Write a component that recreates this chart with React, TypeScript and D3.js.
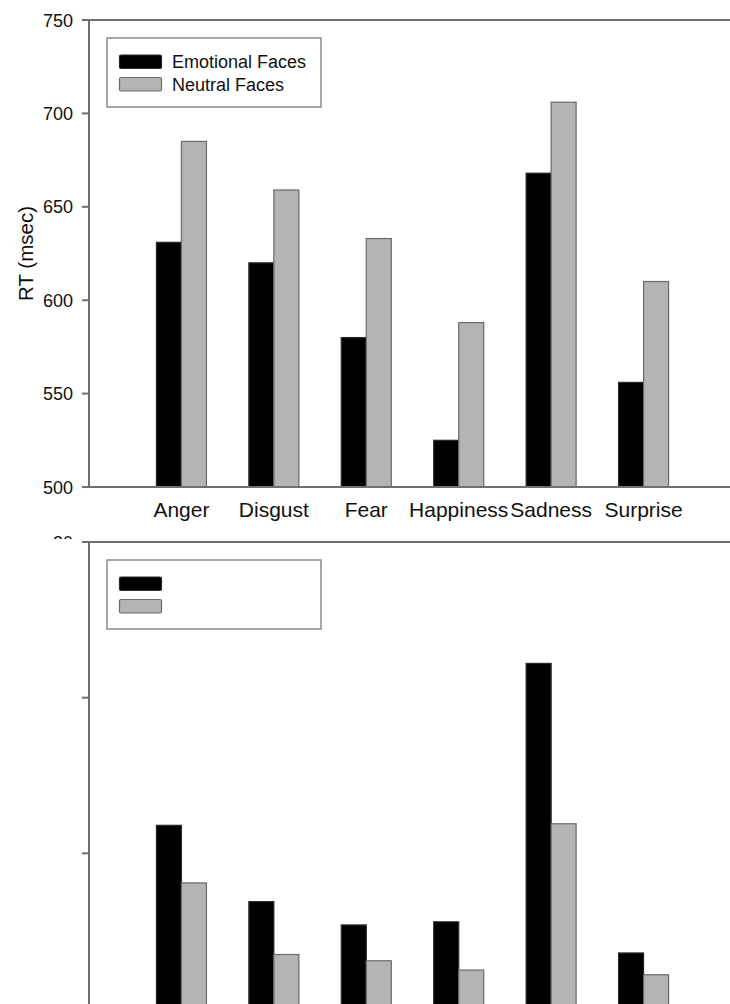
import React from 'react';
import * as d3 from 'd3';

// chart values
const categories = ['Anger', 'Disgust', 'Fear', 'Happiness', 'Sadness', 'Surprise'];
const seriesLabels = ['Emotional Faces', 'Neutral Faces'];
const rtEmotional = [631, 620, 580, 525, 668, 556];
const rtNeutral = [685, 659, 633, 588, 706, 610];
const errEmotional = [11.8, 6.9, 5.4, 5.6, 22.2, 3.6];
const errNeutral = [8.1, 3.5, 3.1, 2.5, 11.9, 2.2];
const rtTicks = [500, 550, 600, 650, 700, 750];
const errTicks = [0, 10, 20, 30];

const FONT = '"Liberation Sans", Arial, Helvetica, sans-serif';
const W = 730;
const H = 1004;
const AXIS_X = 89;
const BAR_W = 25;
const fills = ['#000000', '#b4b4b4'];
const strokes = ['#2a2a2a', '#6a6a6a'];

const x = d3.scaleLinear().domain([0, categories.length + 1]).range([AXIS_X, 736]);

type PanelProps = {
  top: number;
  bottom: number;
  domain: [number, number];
  ticks: number[];
  series: number[][];
  showText: boolean;
};

const Panel = ({ top, bottom, domain, ticks, series, showText }: PanelProps) => {
  const y = d3.scaleLinear().domain(domain).range([bottom, top]);
  const clipId = `clip-${top}`;
  const legendY = top + 18;

  return (
    <g>
      {/* bars */}
      {categories.map((c, i) => {
        const cx = x(i + 1);
        return series.map((vals, s) => {
          const yTop = y(vals[i]);
          return (
            <rect
              key={`${c}-${s}`}
              x={cx - BAR_W + s * BAR_W}
              y={yTop}
              width={BAR_W}
              height={Math.max(0, y(domain[0]) - yTop)}
              fill={fills[s]}
              stroke={strokes[s]}
              strokeWidth={1.2}
            />
          );
        });
      })}

      {/* frame: top line, left axis, bottom axis */}
      <line x1={AXIS_X} x2={W} y1={top} y2={top} stroke="#707070" strokeWidth={2} />
      <line x1={AXIS_X} x2={AXIS_X} y1={top} y2={y(domain[0])} stroke="#707070" strokeWidth={2} />
      <line x1={AXIS_X - 7} x2={W} y1={y(domain[0])} y2={y(domain[0])} stroke="#707070" strokeWidth={2} />

      {ticks.map((t) => (
        <line key={`t${t}`} x1={AXIS_X - 7} x2={AXIS_X} y1={y(t)} y2={y(t)} stroke="#707070" strokeWidth={2} />
      ))}

      {showText ? (
        ticks.map((t) => (
          <text key={`l${t}`} x={73} y={y(t) + 6.5} textAnchor="end" fontSize={18} fontFamily={FONT} fill="#111">
            {t}
          </text>
        ))
      ) : (
        <>
          {/* only the top of the highest label shows in the figure */}
          <clipPath id={clipId}>
            <rect x={0} y={top - 10} width={AXIS_X - 8} height={7} />
          </clipPath>
          <text
            x={73}
            y={y(ticks[ticks.length - 1]) + 6.5}
            textAnchor="end"
            fontSize={18}
            fontFamily={FONT}
            fill="#111"
            clipPath={`url(#${clipId})`}
          >
            {ticks[ticks.length - 1]}
          </text>
        </>
      )}

      {showText &&
        categories.map((c, i) => (
          <text key={c} x={x(i + 1)} y={bottom + 30} textAnchor="middle" fontSize={21} fontFamily={FONT} fill="#111">
            {c}
          </text>
        ))}

      {showText && (
        <text
          transform={`translate(33, ${(top + bottom) / 2}) rotate(-90)`}
          textAnchor="middle"
          fontSize={20.5}
          fontFamily={FONT}
          fill="#111"
        >
          RT (msec)
        </text>
      )}

      {/* legend */}
      <rect x={107} y={legendY} width={214} height={69} fill="#fff" stroke="#8a8a8a" strokeWidth={1.5} />
      {seriesLabels.map((lab, s) => (
        <g key={lab}>
          <rect
            x={119.5}
            y={legendY + 17 + s * 22.5}
            width={42}
            height={13.5}
            rx={1.5}
            fill={fills[s]}
            stroke={strokes[s]}
            strokeWidth={1.2}
          />
          {showText && (
            <text x={172} y={legendY + 30 + s * 23} fontSize={18} fontFamily={FONT} fill="#111">
              {lab}
            </text>
          )}
        </g>
      ))}
    </g>
  );
};

export default function App() {
  return (
    <svg
      width={W}
      height={H}
      style={{ position: 'absolute', left: 0, top: 0, background: '#fff' }}
    >
      <rect width={W} height={H} fill="#fff" />
      <Panel top={20} bottom={487} domain={[500, 750]} ticks={rtTicks} series={[rtEmotional, rtNeutral]} showText />
      <Panel
        top={542}
        bottom={1009}
        domain={[0, 30]}
        ticks={errTicks}
        series={[errEmotional, errNeutral]}
        showText={false}
      />
    </svg>
  );
}
